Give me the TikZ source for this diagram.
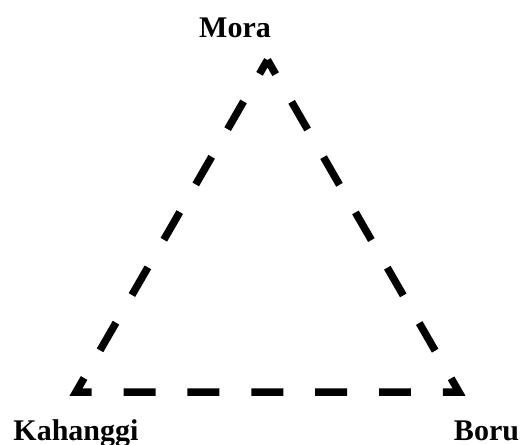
\documentclass[tikz,border=0pt]{standalone}
\usepackage{fontspec}
\setmainfont{Liberation Serif}
\begin{document}
\begin{tikzpicture}[x=1pt,y=-1pt,
  edge/.style={line width=7.5pt, line join=miter, miter limit=10,
    dash pattern=on 31.92pt off 31.92pt, dash phase=15.96pt},
  lbl/.style={font=\fontsize{30}{36}\selectfont\bfseries, inner sep=0pt, anchor=base}]
\useasboundingbox (0,0) rectangle (523,445);
% corners of the triangle
\coordinate (top) at (267.5,60);
\coordinate (bl) at (76,392);
\coordinate (br) at (459,392);
% dashed triangle
\draw[edge] (top) -- (bl) -- (br) -- cycle;
% vertex labels
\node[lbl] (mora) at (235,37) {Mora};
\node[lbl] (kahanggi) at (76,440) {Kahanggi};
\node[lbl] (boru) at (486.5,440) {Boru};
\end{tikzpicture}
\end{document}
